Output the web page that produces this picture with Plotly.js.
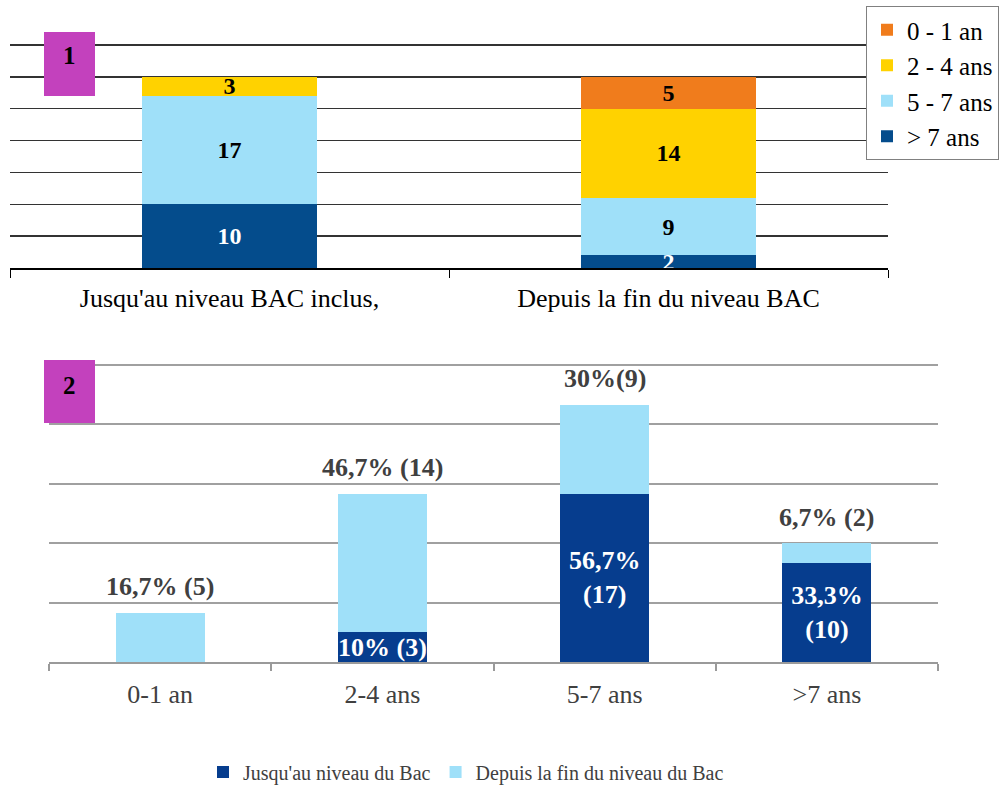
<!DOCTYPE html>
<html><head><meta charset="utf-8">
<script src="https://cdn.plot.ly/plotly-3.0.1.min.js"></script>
<style>html,body{margin:0;padding:0;background:#fff}#chart{width:1007px;height:785px}</style>
</head><body><div id="chart"></div>
<script>
// ---- Chart 1 data ----
const cat1 = ["Jusqu'au niveau BAC inclus,", "Depuis la fin du niveau BAC"];
const ser1Names = [">\u00a07 ans", "5 - 7 ans", "2 - 4 ans", "0 - 1 an"];
const s1_gt7 = [10, 2];
const s1_57 = [17, 9];
const s1_24 = [3, 14];
const s1_01 = [0, 5];
const ser1Colors = ["#044c8c", "#9fe0f9", "#ffd200", "#f07c1c"];
const ser1TextColors = ["#ffffff", "#000000", "#000000", "#000000"];

// ---- Chart 2 data ----
const cat2 = ["0-1 an", "2-4 ans", "5-7 ans", ">7 ans"];
const s2_jusqu = [0, 3, 17, 10];
const s2_depuis = [5, 14, 9, 2];
const s2_jusquText = ["", "10% (3)", "56,7%<br>(17)", "33,3%<br>(10)"];
const s2_depuisText = ["16,7% (5)", "46,7% (14)", "30%(9)", "6,7% (2)"];
const ser2Names = ["Jusqu'au niveau du Bac", "Depuis la fin du niveau du Bac"];

const W = 1007, H = 785;
const px = x => x / W, py = y => 1 - y / H;
const serif = "Liberation Serif";

const s1 = [s1_gt7, s1_57, s1_24, s1_01];
const traces = [];
s1.forEach((vals, i) => {
  traces.push({
    type: "bar", x: cat1, y: vals, name: ser1Names[i],
    xaxis: "x", yaxis: "y", legend: "legend",
    marker: {color: ser1Colors[i], line: {width: 0}},
    text: vals.map(v => v > 0 ? String(v) : ""),
    textposition: "inside", insidetextanchor: "middle", textangle: 0, constraintext: "none",
    textfont: {family: serif, size: 24, weight: "bold", color: ser1TextColors[i]},
    cliponaxis: true, hoverinfo: "skip"
  });
});
traces.push({
  type: "bar", x: cat2, y: s2_jusqu, name: ser2Names[0],
  xaxis: "x2", yaxis: "y2", legend: "legend2",
  marker: {color: "#063d8e", line: {width: 0}},
  text: s2_jusquText, textposition: "inside", insidetextanchor: "middle", textangle: 0, constraintext: "none",
  textfont: {family: serif, size: 26, weight: "bold", color: "#ffffff"},
  hoverinfo: "skip"
});
traces.push({
  type: "bar", x: cat2, y: s2_depuis, name: ser2Names[1],
  xaxis: "x2", yaxis: "y2", legend: "legend2",
  marker: {color: "#9fe0f9", line: {width: 0}},
  textposition: "none",
  hoverinfo: "skip"
});

// labels above the stacked bars of chart 2
const topLabels = cat2.map((c, i) => ({
  xref: "x2", yref: "y2", x: c, y: s2_jusqu[i] + s2_depuis[i],
  text: s2_depuisText[i], showarrow: false, xanchor: "center", yanchor: "middle", yshift: 26,
  font: {family: serif, size: 26, weight: "bold", color: "#404040"}
}));

// y ranges slightly extended so the top gridline is drawn
const top1 = 35.4, top2 = 30.4;
const y1px = (268 - 45) / 35, y2px = (662 - 365) / 30;

const layout = {
  width: W, height: H,
  margin: {l: 0, r: 0, t: 0, b: 0, autoexpand: false},
  paper_bgcolor: "#ffffff", plot_bgcolor: "rgba(0,0,0,0)",
  barmode: "stack", bargap: 0.6,
  showlegend: true,
  font: {family: serif},
  xaxis: {
    domain: [px(10), px(888)], anchor: "y",
    showline: true, linecolor: "#000000", linewidth: 1.5,
    ticks: "outside", tickson: "boundaries", ticklen: 8, tickcolor: "#000000", tickwidth: 1,
    ticklabelstandoff: 6,
    tickfont: {family: serif, size: 26, color: "#000000"},
    showgrid: false, fixedrange: true
  },
  yaxis: {
    domain: [py(268), py(268 - top1 * y1px)], anchor: "x",
    range: [0, top1], tick0: 0, dtick: 5, showticklabels: false,
    showgrid: true, gridcolor: "#333333", gridwidth: 1.3,
    zeroline: false, fixedrange: true
  },
  xaxis2: {
    domain: [px(49), px(938)], anchor: "y2",
    showline: true, linecolor: "#9a9a9a", linewidth: 2,
    ticks: "outside", tickson: "boundaries", ticklen: 7, tickcolor: "#9a9a9a", tickwidth: 2,
    ticklabelstandoff: 8,
    tickfont: {family: serif, size: 26, color: "#404040"},
    showgrid: false, fixedrange: true
  },
  yaxis2: {
    domain: [py(662), py(662 - top2 * y2px)], anchor: "x2",
    range: [0, top2], tick0: 0, dtick: 6, showticklabels: false,
    showgrid: true, gridcolor: "#a0a0a0", gridwidth: 2,
    zeroline: false, fixedrange: true
  },
  legend: {
    x: px(866), xanchor: "left", y: py(6), yanchor: "top",
    bordercolor: "#808080", borderwidth: 1, bgcolor: "#ffffff",
    traceorder: "reversed",
    font: {family: serif, size: 25, color: "#000000"},
    itemclick: false, itemdoubleclick: false
  },
  legend2: {
    orientation: "h", x: px(203), xanchor: "left", y: py(772), yanchor: "middle",
    traceorder: "normal", bgcolor: "rgba(0,0,0,0)",
    font: {family: serif, size: 20, color: "#404040"},
    itemclick: false, itemdoubleclick: false
  },
  shapes: [
    {type: "rect", xref: "paper", yref: "paper", x0: px(44), x1: px(95), y0: py(96), y1: py(32),
     fillcolor: "#c341bd", line: {width: 0}, layer: "above"},
    {type: "rect", xref: "paper", yref: "paper", x0: px(44), x1: px(95), y0: py(423), y1: py(360),
     fillcolor: "#c341bd", line: {width: 0}, layer: "above"}
  ],
  annotations: [
    {xref: "paper", yref: "paper", x: px(69), y: py(56), text: "1", showarrow: false,
     xanchor: "center", yanchor: "middle", font: {family: serif, size: 25, weight: "bold", color: "#000000"}},
    {xref: "paper", yref: "paper", x: px(69), y: py(385), text: "2", showarrow: false,
     xanchor: "center", yanchor: "middle", font: {family: serif, size: 25, weight: "bold", color: "#000000"}}
  ].concat(topLabels)
};

Plotly.newPlot("chart", traces, layout, {displayModeBar: false, staticPlot: true});
</script></body></html>
